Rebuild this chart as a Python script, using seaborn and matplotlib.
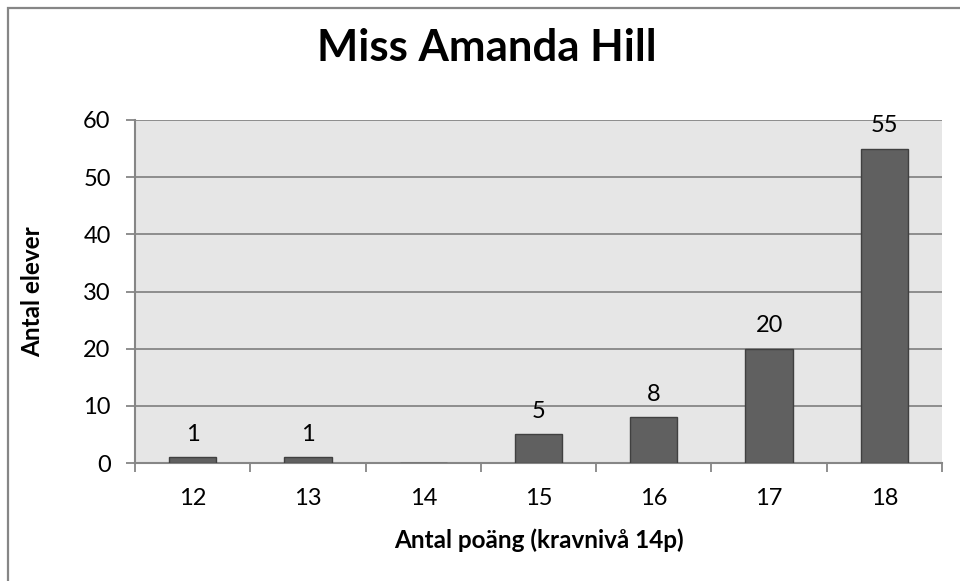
import matplotlib
matplotlib.use("Agg")
import matplotlib.pyplot as plt
from matplotlib.patches import Rectangle
from matplotlib.ticker import FixedLocator, NullFormatter
import seaborn as sns
import pandas as pd

# Score distribution for one teacher's class
points = ["12", "13", "14", "15", "16", "17", "18"]
students = [1, 1, 0, 5, 8, 20, 55]
y_ticks = [0, 10, 20, 30, 40, 50, 60]

title = "Miss Amanda Hill"
x_label = "Antal poäng (kravnivå 14p)"
y_label = "Antal elever"

sns.set_theme(style="white")
plt.rcParams["font.family"] = ["Lato", "DejaVu Sans"]

df = pd.DataFrame({"points": points, "students": students})

fig = plt.figure(figsize=(9.6, 5.81), dpi=100)
ax = fig.add_axes([135 / 960, 1 - 463 / 581, (942 - 135) / 960, (463 - 120) / 581])

axis_grey = "#868686"
ax.set_facecolor("#e6e6e6")

sns.barplot(data=df, x="points", y="students", ax=ax, color="#606060",
            saturation=1, width=0.41, edgecolor="#404040", linewidth=1.0, zorder=3)

ax.set_xlim(-0.5, len(points) - 0.5)
ax.set_ylim(0, 60)
ax.set_yticks(y_ticks)
ax.yaxis.grid(True, color=axis_grey, linewidth=1.3, zorder=1)
ax.set_axisbelow(True)

# category ticks sit between bars, labels centred under bars
ax.xaxis.set_minor_locator(FixedLocator([i - 0.5 for i in range(len(points) + 1)]))
ax.xaxis.set_minor_formatter(NullFormatter())
ax.tick_params(axis="x", which="major", length=0, pad=18, labelsize=17, labelcolor="black")
ax.tick_params(axis="x", which="minor", length=6.5, width=1.3, color=axis_grey, direction="out")
ax.tick_params(axis="y", which="major", length=6.5, width=1.3, color=axis_grey,
               direction="out", pad=11, labelsize=17, labelcolor="black")
ax.tick_params(bottom=True, left=True, which="both")

for side in ("top", "right"):
    ax.spines[side].set_visible(False)
for side in ("left", "bottom"):
    ax.spines[side].set_color(axis_grey)
    ax.spines[side].set_linewidth(1.5)

for i, v in enumerate(students):
    if v > 0:
        ax.annotate(str(v), (i, v), xytext=(0, 9), textcoords="offset points",
                    ha="center", va="bottom", fontsize=17, color="black", zorder=4)

# axis titles centred on the plot area
ax.set_xlabel("")
ax.set_ylabel("")
fig.text(538.5 / 960, 1 - 540 / 581, x_label, ha="center", va="center",
         fontsize=17.5, fontweight="bold", color="black")
fig.text(33 / 960, 1 - 291.5 / 581, y_label, ha="center", va="center", rotation=90,
         fontsize=17.5, fontweight="bold", color="black")
fig.text(487 / 960, 1 - 48 / 581, title, ha="center", va="center",
         fontsize=31.5, fontweight="bold", color="black")

# chart area frame
fig.patches.append(Rectangle((8 / 960, -0.1), 1.2, 1 - 8 / 581 + 0.1,
                             transform=fig.transFigure, fill=False,
                             edgecolor=axis_grey, linewidth=1.6))

fig.savefig("out.png", dpi=100, facecolor="white")
